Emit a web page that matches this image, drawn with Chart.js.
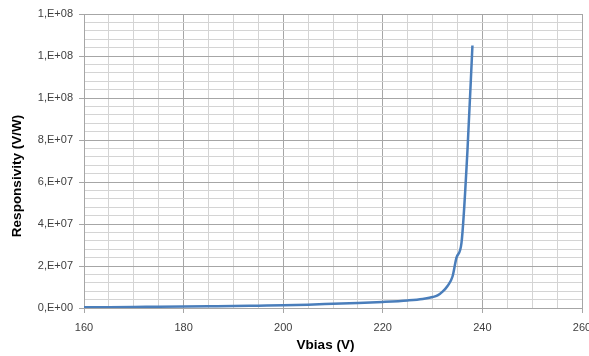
<!DOCTYPE html>
<html>
<head>
<meta charset="utf-8">
<script src="https://cdn.jsdelivr.net/npm/chart.js@4/dist/chart.umd.min.js"></script>
<style>
  html, body { margin: 0; padding: 0; background: #fff; }
  #wrap { width: 589px; height: 356px; }
</style>
</head>
<body>
<div id="wrap"><canvas id="myChart" width="589" height="356"></canvas></div>
<script>
// Vbias (V) and responsivity (V/W)
const vbias = [160, 165, 170, 175, 180, 185, 190, 195, 200, 205, 210, 215, 220, 225, 228, 230, 231, 232, 233, 234, 234.8, 235.8, 237, 238];
const responsivity = [3e5, 4e5, 5e5, 6e5, 7e5, 8e5, 9e5, 1.1e6, 1.3e6, 1.6e6, 2.0e6, 2.4e6, 2.9e6, 3.6e6, 4.3e6, 5.2e6, 6.0e6, 7.8e6, 1.05e7, 1.5e7, 2.4e7, 3.1e7, 7.5e7, 1.25e8];

const xTickLabels = ['160', '180', '200', '220', '240', '260'];
const yTickLabels = ['0,E+00', '2,E+07', '4,E+07', '6,E+07', '8,E+07', '1,E+08', '1,E+08', '1,E+08'];

const points = vbias.map((v, i) => ({ x: v, y: responsivity[i] }));

const majorGrid = '#a6a6a6';
const minorGrid = '#d4d4d4';
const fontFamily = "'Liberation Sans', Arial, sans-serif";

function configureChart() {
  const ctx = document.getElementById('myChart').getContext('2d');
  new Chart(ctx, {
    type: 'scatter',
    data: {
      datasets: [
        {
          data: points,
          showLine: true,
          borderColor: '#4a7ebb',
          borderWidth: 2.5,
          pointRadius: 0,
          cubicInterpolationMode: 'monotone',
        },
      ],
    },
    options: {
      responsive: false,
      animation: false,
      layout: { padding: { top: 14, right: 7, left: 0, bottom: 0 } },
      plugins: { legend: { display: false }, tooltip: { enabled: false } },
      scales: {
        x: {
          type: 'linear',
          min: 160,
          max: 260,
          afterBuildTicks: scale => {
            scale.ticks = [];
            for (let v = 160; v <= 260; v += 5) scale.ticks.push({ value: v });
          },
          afterFit: scale => {
            scale.height = 48;
            scale.paddingLeft = 0;
            scale.paddingRight = 0;
          },
          grid: {
            color: c => (c.tick && c.tick.value % 20 === 0 ? majorGrid : minorGrid),
            tickColor: c => (c.tick && c.tick.value % 20 === 0 ? majorGrid : 'rgba(0,0,0,0)'),
            tickLength: 5,
          },
          border: { color: majorGrid },
          ticks: {
            autoSkip: false,
            maxRotation: 0,
            padding: 8,
            color: '#404040',
            font: { family: fontFamily, size: 11 },
            callback: v => (v % 20 === 0 ? xTickLabels[(v - 160) / 20] : ''),
          },
          title: {
            display: true,
            // trailing spaces nudge the title left, like the original
            text: 'Vbias (V)    ',
            color: '#000',
            font: { family: fontFamily, size: 13.5, weight: 'bold' },
            padding: { top: 2, bottom: 3 },
          },
        },
        y: {
          min: 0,
          max: 1.4e8,
          afterBuildTicks: scale => {
            scale.ticks = [];
            for (let i = 0; i <= 35; i++) scale.ticks.push({ value: i * 4e6 });
          },
          afterFit: scale => {
            scale.width = 84;
          },
          grid: {
            color: c => (c.tick && Math.round(c.tick.value / 4e6) % 5 === 0 ? majorGrid : minorGrid),
            tickColor: c => (c.tick && Math.round(c.tick.value / 4e6) % 5 === 0 ? majorGrid : 'rgba(0,0,0,0)'),
            tickLength: 5,
          },
          border: { color: majorGrid },
          ticks: {
            autoSkip: false,
            padding: 6,
            color: '#404040',
            font: { family: fontFamily, size: 11 },
            callback: v => {
              const i = Math.round(v / 4e6);
              return i % 5 === 0 ? yTickLabels[i / 5] : '';
            },
          },
          title: {
            display: true,
            // trailing spaces push the rotated title down a little
            text: 'Responsivity (V/W)        ',
            color: '#000',
            font: { family: fontFamily, size: 13.5, weight: 'bold' },
            padding: { top: 9, bottom: 2 },
          },
        },
      },
    },
  });
}
configureChart();
</script>
</body>
</html>
